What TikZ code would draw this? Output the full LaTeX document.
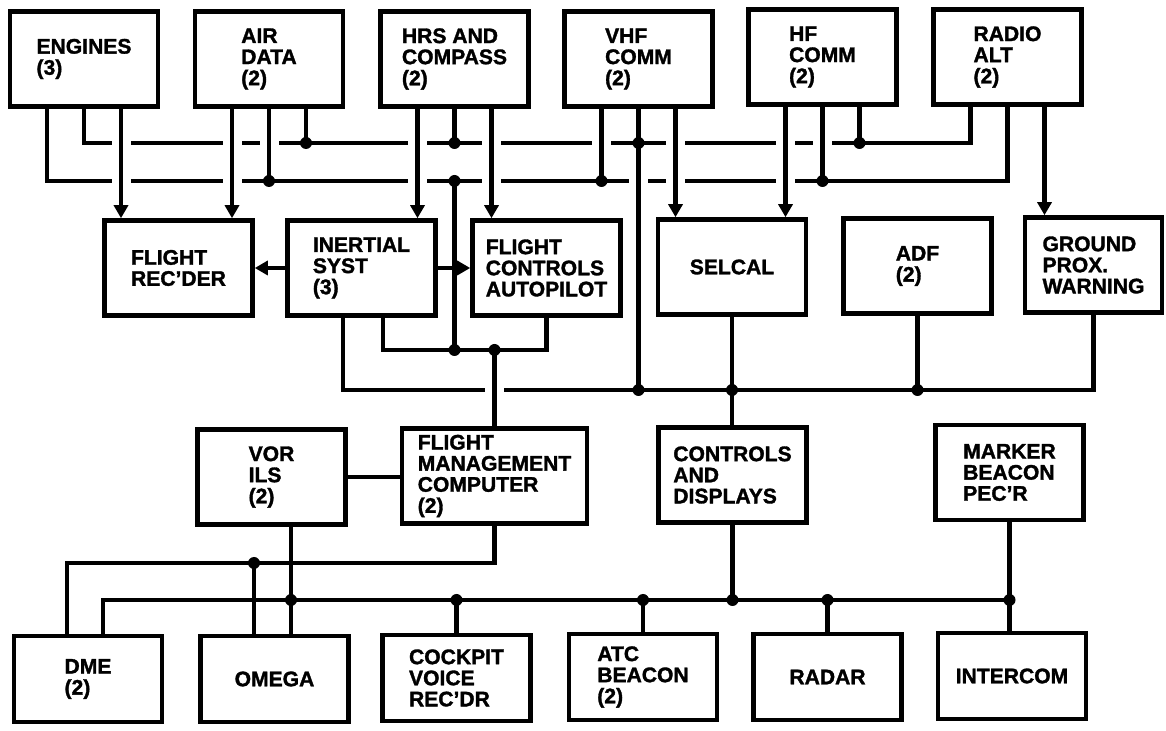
\documentclass[tikz,border=0pt]{standalone}
\usepackage{fontspec}
\setmainfont{Liberation Sans}[BoldFeatures={FakeBold=1.5}]
\usetikzlibrary{arrows.meta}

\tikzset{
	unit/.style={draw, line width=2.6pt, minimum width=2.96cm, minimum height=1.9cm, inner sep=0pt, align=left, font=\fontsize{12}{12}\selectfont\bfseries},
	low/.style={minimum height=1.72cm},
	wire/.style={line width=2.6pt},
	feed/.style={wire, -{Triangle[length=.26cm,width=.28cm]}},
	hop/.style={fill=white},
}

\begin{document}
\begin{tikzpicture}
	\useasboundingbox (0,0) rectangle (23.32,-14.62);

	\node[unit] (engines) at (1.68,-1.18) {ENGINES\\(3)};
	\node[unit] (airdata) at (5.38,-1.18) {AIR\\DATA\\(2)};
	\node[unit] (hrs) at (9.09,-1.18) {HRS AND\\COMPASS\\(2)};
	\node[unit] (vhf) at (12.77,-1.18) {VHF\\COMM\\(2)};
	\node[unit] (hf) at (16.45,-1.14) {HF\\COMM\\(2)};
	\node[unit] (radalt) at (20.15,-1.14) {RADIO\\ALT\\(2)};

	\node[unit] (flightrec) at (3.57,-5.36) {FLIGHT\\REC'DER};
	\node[unit] (inertial) at (7.23,-5.36) {INERTIAL\\SYST\\(3)};
	\node[unit] (fc) at (10.93,-5.36) {FLIGHT\\CONTROLS\\AUTOPILOT};
	\node[unit] (selcal) at (14.64,-5.34) {SELCAL};
	\node[unit] (adf) at (18.35,-5.32) {ADF\\(2)};
	\node[unit, minimum width=2.74cm] (gp) at (21.87,-5.3) {GROUND\\PROX.\\WARNING};

	\node[unit] (vor) at (5.43,-9.54) {VOR\\ILS\\(2)};
	\node[unit, minimum width=3.7cm] (fmc) at (9.89,-9.52) {FLIGHT\\MANAGEMENT\\COMPUTER\\(2)};
	\node[unit] (controls) at (14.65,-9.5) {CONTROLS\\AND\\DISPLAYS};
	\node[unit] (marker) at (20.19,-9.45) {MARKER\\BEACON\\PEC'R};

	\node[unit, low] (dme) at (1.76,-13.58) {DME\\(2)};
	\node[unit, low] (omega) at (5.49,-13.58) {OMEGA};
	\node[unit, low] (cockpit) at (9.13,-13.56) {COCKPIT\\VOICE\\REC'DR};
	\node[unit, low] (atc) at (12.86,-13.54) {ATC\\BEACON\\(2)};
	\node[unit, low] (radar) at (16.55,-13.54) {RADAR};
	\node[unit, low] (intercom) at (20.24,-13.52) {INTERCOM};

	\foreach \n/\s in {engines/eng, airdata/ad, hrs/hrs, vhf/vhf, hf/hf, radalt/ra} {
		\coordinate (\s L) at ([xshift=-.74cm]\n.south);
		\coordinate (\s R) at ([xshift=.74cm]\n.south);
	}
	\coordinate (inL) at ([xshift=-.37cm]inertial.south);
	\coordinate (inR) at ([xshift=.43cm]inertial.south);
	\coordinate (vorT) at ([xshift=.39cm]vor.south);
	\coordinate (dmeL) at ([xshift=-.42cm]dme.north);
	\coordinate (dmeR) at ([xshift=.3cm]dme.north);
	\coordinate (omegaL) at ([xshift=-.41cm]omega.north);

	\coordinate (busA) at (0,-2.86);
	\coordinate (busB) at (0,-3.62);
	\coordinate (busC) at (0,-7.0);
	\coordinate (busD) at (0,-7.8);
	\coordinate (busE) at (0,-11.26);
	\coordinate (busF) at (0,-12.0);

	\draw[wire] (engines.south) |- (busA -| raL) -- (raL);
	\draw[wire] (engL) |- (busB -| radalt.south) -- (radalt.south);
	\draw[wire] (inR) |- (busC -| fc.south) -- (fc.south);
	\draw[wire] (inL) |- (busD -| gp.south) -- (gp.south);
	\draw[wire] (fmc.south) |- (busE -| dmeL) -- (dmeL);
	\draw[wire] (dmeR) |- (busF -| marker.south);

	\foreach \p in {engR |- busA, adL |- busA, airdata.south |- busA, hrsL |- busA, hrsR |- busA,
		vhfL |- busA, vhfR |- busA, hfL |- busA, hf.south |- busA,
		engR |- busB, adL |- busB, hrsL |- busB, hrsR |- busB, vhf.south |- busB, vhfR |- busB,
		hfL |- busB, fmc.north |- busD}
		\fill[hop] (\p) ++(-.19,-.1) rectangle ++(.38,.2);

	\draw[feed] (engR) -- (engR |- flightrec.north);
	\draw[feed] (adL) -- (adL |- flightrec.north);
	\draw[feed] (hrsL) -- (hrsL |- inertial.north);
	\draw[feed] (hrsR) -- (hrsR |- fc.north);
	\draw[feed] (vhfR) -- (vhfR |- selcal.north);
	\draw[feed] (hfL) -- (hfL |- selcal.north);
	\draw[feed] (raR) -- (raR |- gp.north);

	\draw[wire] (airdata.south) -- (airdata.south |- busB);
	\draw[wire] (adR) -- (adR |- busA);
	\draw[wire] (hrs.south) -- (hrs.south |- busA);
	\draw[wire] (vhfL) -- (vhfL |- busB);
	\draw[wire] (vhf.south) -- (vhf.south |- busD);
	\draw[wire] (hf.south) -- (hf.south |- busB);
	\draw[wire] (hfR) -- (hfR |- busA);
	\draw[wire] (hrs.south |- busB) -- (hrs.south |- busC);

	\draw[feed] (inertial.west) -- (flightrec.east);
	\draw[feed] (inertial.east) -- (fc.west);

	\draw[wire] (fmc.north |- busC) -- (fmc.north);
	\draw[wire] (selcal.south) -- (selcal.south |- controls.north);
	\draw[wire] (adf.south) -- (adf.south |- busD);

	\draw[wire] (vor.east) -- (vor.east -| fmc.west);
	\draw[wire] (vorT) -- (vorT |- omega.north);
	\draw[wire] (omegaL |- busE) -- (omegaL);
	\draw[wire] (controls.south) -- (controls.south |- busF);
	\draw[wire] (marker.south) -- (marker.south |- intercom.north);
	\draw[wire] (cockpit.north |- busF) -- (cockpit.north);
	\draw[wire] (atc.north |- busF) -- (atc.north);
	\draw[wire] (radar.north |- busF) -- (radar.north);

	\foreach \p in {airdata.south |- busB, adR |- busA, hrs.south |- busA, hrs.south |- busB,
		vhfL |- busB, vhf.south |- busA, hf.south |- busB, hfR |- busA,
		hrs.south |- busC, fmc.north |- busC, vhf.south |- busD, selcal.south |- busD, adf.south |- busD,
		omegaL |- busE, vorT |- busF, cockpit.north |- busF, atc.north |- busF,
		controls.south |- busF, radar.north |- busF, marker.south |- busF}
		\fill (\p) circle (.12);
\end{tikzpicture}
\end{document}
